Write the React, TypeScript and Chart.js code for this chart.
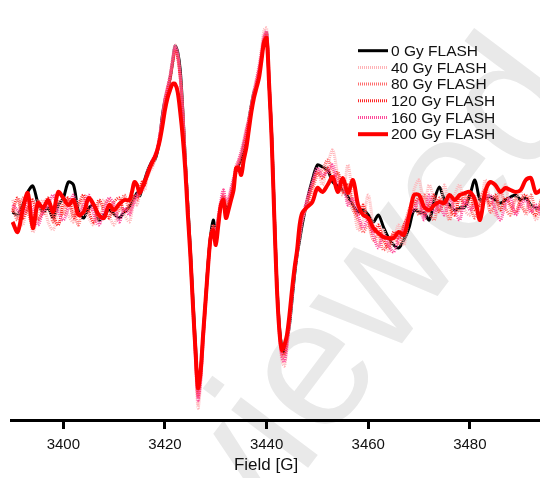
import React, { useEffect, useRef } from "react";
import { Chart, registerables } from "chart.js";

Chart.register(...registerables);

// Magnetic field (G)
const field = [
  3390, 3391, 3392, 3393, 3394, 3395, 3396, 3397, 3398, 3399, 3400, 3401, 3402, 3403, 3404, 3405, 3406, 3407, 3408, 3409, 3410, 3411, 3412, 3413,
  3413.5, 3414, 3414.5, 3415, 3415.5, 3416, 3416.5, 3417, 3417.5, 3418,
  3418.5, 3419, 3419.5, 3420, 3420.5, 3421, 3421.5, 3422, 3422.5, 3423,
  3423.5, 3424, 3424.5, 3425, 3425.5, 3426, 3426.5, 3427, 3427.5, 3428,
  3428.5, 3429, 3429.5, 3430, 3430.5, 3431, 3431.5, 3432, 3432.5, 3433,
  3433.5, 3434, 3434.5, 3435, 3435.5, 3436, 3436.5, 3437, 3437.5, 3438,
  3438.5, 3439, 3439.5, 3440, 3440.5, 3441, 3441.5, 3442, 3442.5, 3443,
  3443.5, 3444, 3444.5, 3445, 3445.5, 3446, 3446.5,
  3447, 3448, 3449, 3450, 3451, 3452, 3453, 3454, 3455, 3456,
  3457, 3458, 3459, 3460, 3461, 3462, 3463, 3464, 3465, 3466,
  3467, 3468, 3469, 3470, 3471, 3472, 3473, 3474, 3475, 3476,
  3477, 3478, 3479, 3480, 3481, 3482, 3483, 3484, 3485, 3486,
  3487, 3488, 3489, 3490, 3491, 3492, 3493, 3494,
];

// EPR signal (arbitrary units, downward-positive)
const gy0 = [
  212, 215, 205, 192, 186, 203, 212, 208, 218, 205, 198, 182, 185, 212, 218, 208, 205, 220, 215, 210, 214, 218, 212, 207,
  203, 198, 193, 196, 188, 180, 172, 166, 161, 160,
  152, 137, 115, 100, 90, 78, 62, 46, 52, 70,
  110, 160, 205, 250, 300, 345, 388, 372, 335, 300,
  262, 235, 220, 232, 220, 205, 198, 210, 205, 195,
  182, 170, 165, 158, 145, 135, 120, 105, 92, 85,
  72, 58, 40, 33, 85, 135, 210, 280, 325, 348,
  352, 340, 325, 300, 275, 255, 240,
  225, 200, 180, 165, 167, 170, 182, 186, 190, 197,
  205, 212, 210, 215, 222, 215, 227, 238, 245, 248,
  240, 228, 210, 212, 213, 220, 200, 187, 200, 205,
  210, 208, 207, 195, 180, 200, 198, 197, 200, 203,
  200, 197, 195, 200, 198, 205, 208, 208,
];

const gy40 = [
  200, 215, 225, 205, 232, 215, 200, 222, 230, 210, 198, 215, 222, 200, 210, 218, 225, 205, 200, 215, 225, 208, 215, 222,
  212, 200, 205, 195, 185, 190, 178, 172, 168, 160,
  150, 135, 120, 100, 88, 75, 58, 45, 55, 78,
  115, 165, 210, 258, 310, 360, 408, 385, 345, 305,
  268, 238, 228, 232, 215, 205, 190, 200, 205, 190,
  180, 165, 160, 150, 140, 128, 118, 105, 90, 78,
  65, 48, 30, 28, 80, 140, 215, 285, 335, 360,
  366, 348, 325, 298, 272, 255, 238,
  222, 200, 185, 170, 185, 165, 150, 175, 195, 165,
  200, 230, 220, 195, 225, 245, 230, 252, 240, 225,
  245, 215, 190, 180, 205, 185, 200, 210, 185, 215,
  195, 185, 210, 215, 195, 215, 180, 200, 215, 195,
  185, 210, 200, 190, 215, 205, 220, 210,
];

const gy80 = [
  208, 220, 198, 212, 225, 200, 215, 205, 222, 200, 215, 198, 210, 225, 200, 212, 208, 220, 205, 200, 215, 210, 195, 212,
  205, 198, 200, 190, 185, 180, 176, 170, 163, 158,
  150, 135, 118, 100, 88, 78, 62, 48, 55, 75,
  110, 160, 207, 255, 305, 352, 398, 380, 340, 302,
  265, 238, 225, 235, 218, 205, 195, 205, 200, 192,
  182, 170, 162, 155, 145, 132, 120, 106, 94, 82,
  70, 55, 38, 32, 82, 138, 212, 282, 330, 355,
  358, 343, 320, 295, 270, 252, 235,
  220, 205, 190, 175, 170, 160, 170, 180, 185, 200,
  210, 220, 232, 225, 240, 235, 250, 242, 235, 245,
  228, 210, 200, 215, 195, 212, 220, 198, 205, 220,
  200, 212, 195, 205, 218, 198, 190, 212, 205, 190,
  208, 215, 198, 205, 212, 195, 210, 205,
];

const gy120 = [
  212, 198, 218, 208, 200, 220, 210, 198, 215, 225, 205, 198, 218, 205, 195, 212, 222, 200, 210, 218, 202, 198, 212, 205,
  200, 195, 198, 192, 182, 185, 174, 168, 165, 158,
  148, 136, 120, 102, 90, 80, 64, 50, 58, 78,
  112, 162, 208, 255, 305, 355, 395, 378, 338, 300,
  263, 236, 226, 238, 222, 206, 196, 208, 204, 194,
  184, 172, 166, 160, 147, 134, 122, 108, 95, 84,
  72, 57, 40, 34, 84, 138, 212, 282, 328, 352,
  355, 340, 318, 293, 268, 250, 232,
  218, 202, 185, 172, 178, 168, 180, 172, 192, 185,
  205, 215, 205, 222, 232, 225, 240, 248, 232, 238,
  225, 215, 205, 198, 215, 205, 195, 212, 200, 208,
  215, 198, 205, 195, 210, 205, 195, 205, 195, 210,
  198, 205, 212, 200, 195, 210, 215, 200,
];

const gy160 = [
  205, 210, 215, 200, 210, 225, 212, 205, 195, 212, 220, 208, 195, 215, 205, 195, 215, 225, 210, 198, 205, 222, 208, 215,
  208, 202, 195, 188, 190, 182, 172, 166, 160, 155,
  148, 133, 116, 98, 87, 76, 60, 46, 54, 76,
  112, 163, 210, 257, 307, 357, 400, 382, 342, 303,
  266, 240, 228, 234, 216, 200, 190, 202, 198, 188,
  178, 168, 160, 152, 142, 130, 120, 106, 92, 80,
  68, 52, 36, 31, 82, 140, 214, 284, 332, 357,
  362, 346, 322, 297, 271, 252, 236,
  220, 198, 182, 168, 175, 172, 165, 185, 180, 205,
  198, 215, 228, 218, 235, 248, 235, 245, 252, 238,
  230, 215, 210, 200, 220, 195, 212, 205, 215, 198,
  210, 220, 200, 210, 205, 215, 200, 195, 210, 220,
  205, 198, 215, 205, 200, 212, 205, 215,
];

const gy200 = [
  222, 232, 210, 193, 228, 203, 208, 200, 212, 192, 198, 205, 200, 215, 212, 198, 205, 215, 218, 205, 210, 204, 200, 200,
  192, 182, 185, 193, 188, 182, 175, 168, 162, 157,
  150, 140, 126, 110, 98, 90, 84, 84, 92, 112,
  137, 170, 215, 255, 305, 350, 388, 372, 335, 300,
  265, 237, 230, 245, 225, 205, 200, 218, 210, 200,
  190, 168, 168, 175, 160, 148, 130, 112, 98, 88,
  78, 60, 42, 38, 85, 140, 215, 285, 330, 350,
  345, 335, 315, 290, 268, 250, 225,
  213, 207, 202, 188, 192, 185, 177, 192, 178, 193,
  180, 205, 215, 218, 228, 233, 237, 238, 238, 232,
  235, 217, 195, 195, 207, 210, 205, 202, 203, 195,
  200, 195, 193, 192, 200, 220, 192, 182, 185, 192,
  188, 190, 192, 190, 180, 178, 193, 190,
];

const seriesLabels = ["0 Gy FLASH", "40 Gy FLASH", "80 Gy FLASH", "120 Gy FLASH", "160 Gy FLASH", "200 Gy FLASH"];
const seriesValues = [gy0, gy40, gy80, gy120, gy160, gy200];
const seriesColors = ["#000000", "#ffb4b8", "#ff6e6e", "#ff2626", "#ff4a9a", "#ff0000"];
const seriesWidths = [3, 3, 3, 3, 3, 4];
const seriesDashes: number[][] = [[], [1, 1], [1, 1], [1, 1], [1, 1], []];
const seriesOrder = [5, 4, 3, 2, 1, 0];
const xTicks = [3400, 3420, 3440, 3460, 3480];
const xTitle = "Field [G]";
const watermarkText = "Reviewed";

const FONT = "'Liberation Sans', Arial, Helvetica, sans-serif";

const watermarkPlugin = {
  id: "watermark",
  beforeDraw(chart: any) {
    const ctx = chart.ctx;
    ctx.save();
    ctx.fillStyle = "#e9e9e9";
    ctx.font = `182px ${FONT}`;
    ctx.textBaseline = "alphabetic";
    ctx.translate(106, 736);
    ctx.rotate((-53 * Math.PI) / 180);
    ctx.fillText(watermarkText, 0, 0);
    ctx.restore();
  },
};

const legendPlugin = {
  id: "customLegend",
  afterDatasetsDraw(chart: any) {
    const ctx = chart.ctx;
    ctx.save();
    ctx.font = `15.5px ${FONT}`;
    ctx.textBaseline = "middle";
    ctx.textAlign = "left";
    seriesLabels.forEach((label, i) => {
      const y = 50.7 + i * 16.7;
      ctx.beginPath();
      ctx.setLineDash(seriesDashes[i]);
      ctx.lineWidth = seriesWidths[i];
      ctx.strokeStyle = seriesColors[i];
      ctx.moveTo(358, y);
      ctx.lineTo(388, y);
      ctx.stroke();
      ctx.setLineDash([]);
      ctx.fillStyle = "#111";
      ctx.fillText(label, 391, y + 1);
    });
    ctx.restore();
  },
};

const axisTitlePlugin = {
  id: "axisTitle",
  afterDraw(chart: any) {
    const ctx = chart.ctx;
    ctx.save();
    ctx.font = `17px ${FONT}`;
    ctx.fillStyle = "#111";
    ctx.textAlign = "center";
    ctx.textBaseline = "middle";
    ctx.fillText(xTitle, 266, 465);
    ctx.restore();
  },
};

export default function App() {
  const ref = useRef<HTMLCanvasElement>(null);
  useEffect(() => {
    document.body.style.margin = "0";
    const canvas = ref.current!;
    const chart = new Chart(canvas, {
      type: "line",
      data: {
        datasets: seriesValues.map((vals, i) => ({
          label: seriesLabels[i],
          data: field.map((x, j) => ({ x, y: vals[j] })),
          borderColor: seriesColors[i],
          borderWidth: seriesWidths[i],
          borderDash: seriesDashes[i],
          pointRadius: 0,
          tension: 0.3,
          fill: false,
          order: seriesOrder[i],
        })),
      },
      options: {
        animation: false,
        responsive: false,
        devicePixelRatio: 1,
        layout: { padding: { left: 11, right: 0, top: 0, bottom: 0 } },
        scales: {
          x: {
            type: "linear",
            min: 3389.7,
            max: 3493.8,
            afterFit: (s: any) => {
              s.height = 58;
            },
            afterBuildTicks: (s: any) => {
              s.ticks = xTicks.map((v) => ({ value: v }));
            },
            ticks: {
              font: { family: FONT, size: 15 },
              color: "#111",
              padding: 7,
              maxRotation: 0,
              callback: (v: any) => String(v),
            },
            grid: {
              drawOnChartArea: false,
              drawTicks: true,
              tickLength: 9,
              tickWidth: 3,
              tickColor: "#000",
            },
            border: { display: true, color: "#000", width: 3 },
          },
          y: { display: false, reverse: true, min: 0, max: 420 },
        },
        plugins: { legend: { display: false }, tooltip: { enabled: false } },
      },
      plugins: [watermarkPlugin, legendPlugin, axisTitlePlugin],
    });
    return () => chart.destroy();
  }, []);
  return <canvas ref={ref} width={540} height={478} style={{ display: "block" }} />;
}
